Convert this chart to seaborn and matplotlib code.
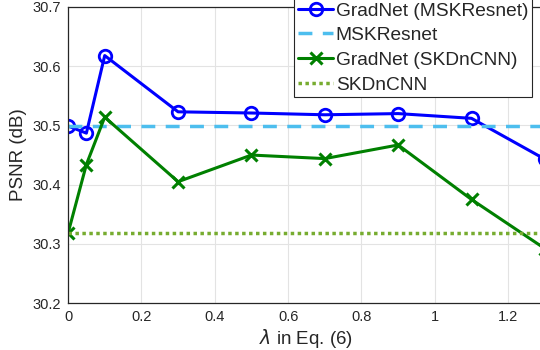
import matplotlib
matplotlib.use('Agg')
import matplotlib.pyplot as plt
import pandas as pd
import seaborn as sns

# Data
lam = [0, 0.05, 0.1, 0.3, 0.5, 0.7, 0.9, 1.1, 1.3]
gradnet_msk = [30.499, 30.487, 30.618, 30.523, 30.521, 30.518, 30.520, 30.512, 30.443]
gradnet_skd = [30.318, 30.434, 30.514, 30.405, 30.450, 30.444, 30.467, 30.375, 30.292]
msk_base = 30.499
skd_base = 30.318

df = pd.DataFrame({'lam': lam, 'msk': gradnet_msk, 'skd': gradnet_skd,
                   'msk_base': [msk_base] * len(lam), 'skd_base': [skd_base] * len(lam)})

sns.set_style('whitegrid')
plt.rcParams['font.family'] = ['Liberation Sans', 'DejaVu Sans']
plt.rcParams['mathtext.fontset'] = 'dejavusans'

fig = plt.figure(figsize=(5.4, 3.5), dpi=100)
ax = fig.add_axes([0.126, 0.134, 0.883, 0.846])

sns.lineplot(data=df, x='lam', y='msk', ax=ax, color='#0000ff', lw=2.2, marker='o',
             markersize=9, markerfacecolor='none', markeredgecolor='#0000ff', markeredgewidth=2,
             label='GradNet (MSKResnet)')
sns.lineplot(data=df, x='lam', y='msk_base', ax=ax, color='#4dbeee', lw=2.5,
             linestyle=(0, (4, 3)), label='MSKResnet')
sns.lineplot(data=df, x='lam', y='skd', ax=ax, color='#008000', lw=2.2, marker='x',
             markersize=8, markeredgecolor='#008000', markeredgewidth=2.2,
             label='GradNet (SKDnCNN)')
sns.lineplot(data=df, x='lam', y='skd_base', ax=ax, color='#77ac30', lw=2.5,
             linestyle=(0, (1, 1)), label='SKDnCNN')

ax.set_xlim(0, 1.3)
ax.set_ylim(30.2, 30.7)
ax.set_xticks([0, 0.2, 0.4, 0.6, 0.8, 1, 1.2])
ax.set_xticklabels(['0', '0.2', '0.4', '0.6', '0.8', '1', '1.2'])
ax.set_yticks([30.2, 30.3, 30.4, 30.5, 30.6, 30.7])
ax.set_yticklabels(['30.2', '30.3', '30.4', '30.5', '30.6', '30.7'])
ax.tick_params(direction='in', length=4, width=0.8, labelsize=10.5, colors='#262626', pad=5)
ax.grid(True, color='#e3e3e3', lw=0.8)
for s in ax.spines.values():
    s.set_color('#262626')
    s.set_linewidth(0.9)

ax.set_xlabel(r'$\lambda$ in Eq. (6)', fontsize=13.5, color='#262626', labelpad=2)
ax.set_ylabel('PSNR (dB)', fontsize=13.5, color='#262626', labelpad=4)

leg = ax.legend(loc='upper right', bbox_to_anchor=(532 / 540, 1.005), bbox_transform=fig.transFigure,
                fontsize=13.8, frameon=True, fancybox=False, framealpha=1, edgecolor='#262626',
                borderpad=0.2, labelspacing=0.38, handlelength=1.8, handletextpad=0.15,
                borderaxespad=0)
leg.get_frame().set_linewidth(0.8)

fig.savefig('out.png', dpi=100)
